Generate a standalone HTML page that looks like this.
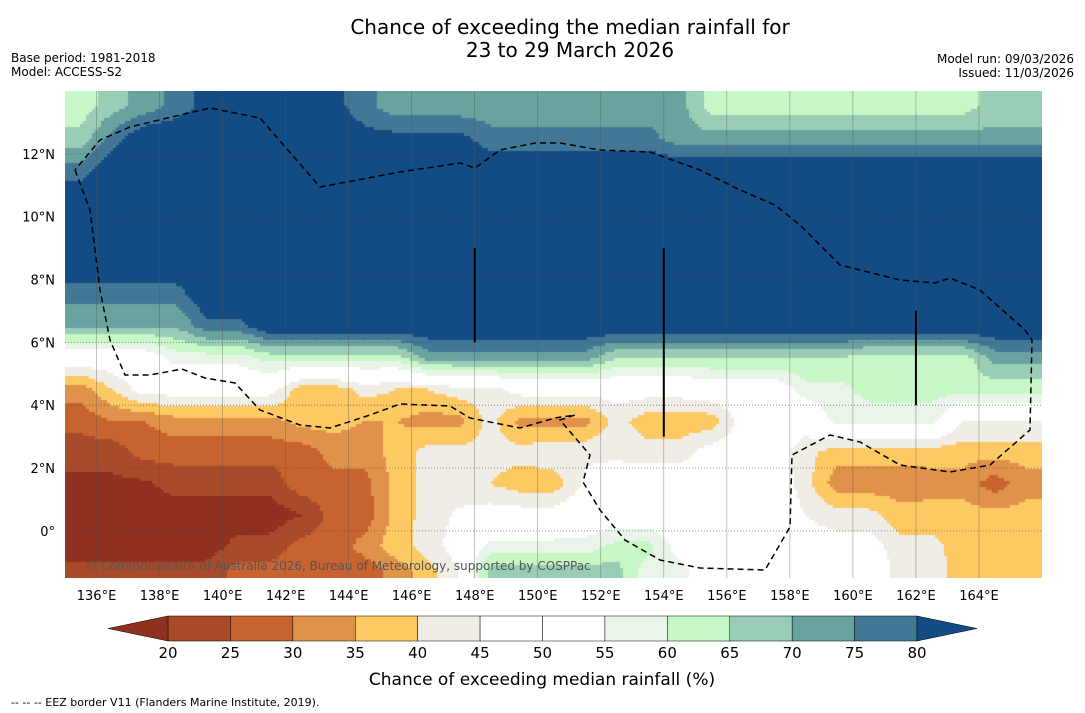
<!DOCTYPE html>
<html><head><meta charset="utf-8"><style>
body{margin:0;background:#fff;width:1085px;height:713px;overflow:hidden;font-family:"Liberation Sans","DejaVu Sans",sans-serif;position:relative}
svg text{font-family:"DejaVu Sans","Liberation Sans",sans-serif}
#field{position:absolute;left:65px;top:91px}
#chart{position:absolute;left:0;top:0}
</style></head><body>
<canvas id="field" width="977" height="487"></canvas>
<svg id="chart" width="1085" height="713">
<text x="570" y="34" font-size="20" text-anchor="middle">Chance of exceeding the median rainfall for</text>
<text x="570" y="57" font-size="20" text-anchor="middle">23 to 29 March 2026</text>
<text x="11" y="62" font-size="12">Base period: 1981-2018</text>
<text x="11" y="76" font-size="12">Model: ACCESS-S2</text>
<text x="1074" y="63" font-size="12" text-anchor="end">Model run: 09/03/2026</text>
<text x="1074" y="77" font-size="12" text-anchor="end">Issued: 11/03/2026</text>
<g id="map"></g>
<g id="cbar"></g>
<text x="542" y="685" font-size="17" text-anchor="middle">Chance of exceeding median rainfall (%)</text>
<text x="11" y="706" font-size="11">--  --  -- EEZ border V11 (Flanders Marine Institute, 2019).</text>
</svg>
<script>
const lons=[];for(let i=0;i<31;i++)lons.push(135+i);
const lats=[14,13,12,11,10,9,8,7,6,5,4,3,2,1,0,-1];
const latBottom=-1.5;
const grid=[
[62,68,72,77,82,82,82,82,82,77,72,72,72,72,72,72,72,72,72,72,63,63,63,63,63,63,63,63,63,67,67],
[67,77,85,85,85,85,85,85,85,82,82,82,82,77,77,77,77,77,77,72,72,72,72,72,72,72,72,72,72,72,72],
[77,85,85,85,85,85,85,85,85,85,85,85,85,85,85,85,85,85,85,85,85,85,85,85,85,85,85,85,85,85,85],
[85,85,85,85,85,85,85,85,85,85,85,85,85,85,85,85,85,85,85,85,85,85,85,85,85,85,85,85,85,85,85],
[85,85,85,85,85,85,85,85,85,85,85,85,85,85,85,85,85,85,85,85,85,85,85,85,85,85,85,85,85,85,85],
[85,85,85,85,85,85,85,85,85,85,85,85,85,85,85,85,85,85,85,85,85,85,85,85,85,85,85,85,85,85,85],
[77,77,77,77,85,85,85,85,85,85,85,85,85,85,85,85,85,85,85,85,85,85,85,85,85,85,85,85,85,85,85],
[70,70,70,70,78,78,85,85,85,85,85,85,85,85,85,85,85,85,85,85,85,85,85,85,85,85,85,85,85,85,85],
[50,50,50,57,57,57,62,62,62,62,62,72,72,72,72,72,72,65,65,65,65,65,65,65,65,62,62,62,62,72,72],
[32,40,48,48,48,48,48,37,37,42,40,40,43,43,48,48,48,48,48,48,50,50,50,58,58,62,62,62,62,62,62],
[27,30,30,33,33,33,33,37,37,35,35,33,33,42,33,33,33,42,37,37,37,48,48,48,57,57,57,57,45,45,45],
[22,22,27,27,27,27,27,27,32,32,37,42,42,42,42,44,44,44,42,42,48,48,48,42,37,37,37,37,37,37,37],
[19,19,19,22,22,22,22,28,28,28,37,42,42,40,37,37,46,48,50,50,50,50,50,42,32,32,32,33,33,27,33],
[17,17,17,17,17,17,17,20,27,27,37,42,46,48,48,48,50,50,50,50,50,50,50,45,42,42,37,37,37,37,37],
[17,17,17,17,17,22,22,27,27,32,38,42,48,57,57,57,57,62,62,52,52,52,48,48,48,48,42,42,37,37,37],
[22,22,22,22,22,27,27,27,27,27,32,38,45,67,67,67,67,67,57,57,50,50,50,50,50,50,43,43,37,37,37]];
const levels=[20,25,30,35,40,45,50,55,60,65,70,75,80];
const colors=["#8f3020","#a94b2a","#c8632f","#e0924a","#fdc963","#f0ece6","#ffffff","#ffffff","#e9f5e8","#c7f7c6","#99cdb5","#6aa2a0","#427896","#134b85"];
const lonTicks=[136,138,140,142,144,146,148,150,152,154,156,158,160,162,164];
const latTicks=[0,2,4,6,8,10,12];
const x0=65,x1=1042,y0=91,y1=578;
const X=lon=>x0+(lon-135)*(x1-x0)/31;
const Y=lat=>y0+(14-lat)*(y1-y0)/15.5;
const NS="http://www.w3.org/2000/svg";
function mk(t,a,p){const e=document.createElementNS(NS,t);for(const k in a)e.setAttribute(k,a[k]);p.appendChild(e);return e;}
function col(v){let b=0;while(b<levels.length&&v>=levels[b])b++;return colors[b];}
const cLon=lons.map(l=>l+0.5);
const cLat=lats.map((l,r)=>{const b=r+1<lats.length?lats[r+1]:latBottom;return (l+b)/2;});
function interp(lon,lat){
  let c=0;while(c<cLon.length-2&&lon>cLon[c+1])c++;
  let tx=(lon-cLon[c])/(cLon[c+1]-cLon[c]);tx=Math.max(0,Math.min(1,tx));
  let r=0;while(r<cLat.length-2&&lat<cLat[r+1])r++;
  let ty=(cLat[r]-lat)/(cLat[r]-cLat[r+1]);ty=Math.max(0,Math.min(1,ty));
  const a=grid[r][c]*(1-tx)+grid[r][c+1]*tx,b=grid[r+1][c]*(1-tx)+grid[r+1][c+1]*tx;
  return a*(1-ty)+b*ty;}
const ctx=document.getElementById('field').getContext('2d');
const S=3;
for(let py=0;py<487;py+=S)for(let px=0;px<977;px+=S){
  const lon=135+(px+S/2)*31/977,lat=14-(py+S/2)*15.5/487;
  ctx.fillStyle=col(interp(lon,lat));ctx.fillRect(px,py,S,S);}
const map=document.getElementById('map');
lonTicks.forEach(l=>{const e=mk('line',{x1:X(l),x2:X(l),y1:y0,y2:y1,stroke:'#555','stroke-width':0.6,'stroke-opacity':0.6},map);


const t=mk('text',{x:X(l),y:600,'font-size':13,'text-anchor':'middle'},map);t.textContent=l+'°E';

});
latTicks.forEach(l=>{const e=mk('line',{x1:x0,x2:x1,y1:Y(l),y2:Y(l),stroke:'#444','stroke-width':0.8,'stroke-dasharray':'1,2','stroke-opacity':0.7},map);


const t=mk('text',{x:55,y:Y(l)+5,'font-size':13,'text-anchor':'end'},map);t.textContent=(l===0?'0°':l+'°N');

});
const eez=mk('polyline',{points:"75,170 90,210 100,290 110,340 125,375 150,375 182,369 205,378 235,383 260,410 300,425 330,428 370,415 400,404 450,406 470,418 520,428 555,418 575,415 560,420 590,455 583,482 600,510 625,540 660,560 700,568 765,570 790,527 792,455 830,435 860,442 900,465 950,472 990,465 1030,430 1032,340 1025,330 980,290 950,278 935,283 900,280 840,265 800,225 775,205 740,190 700,170 650,152 600,150 560,143 535,143 500,150 475,168 460,163 400,172 320,187 260,118 210,108 180,115 130,127 100,140 75,170",fill:'none',stroke:'#000','stroke-width':1.5,'stroke-dasharray':'6,4'},map);


[[148,9,6],[154,9,3],[162,7,4]].forEach(s=>{const e=mk('line',{x1:X(s[0]),x2:X(s[0]),y1:Y(s[1]),y2:Y(s[2]),stroke:'#000','stroke-width':2},map);

});
const cr=mk('text',{x:338,y:570,'font-size':12,'text-anchor':'middle',fill:'#555'},map);cr.textContent='© Commonwealth of Australia 2026, Bureau of Meteorology, supported by COSPPac';


const cb=document.getElementById('cbar');const cx0=168,cx1=917,cy0=616,cy1=641,w=(cx1-cx0)/12;
for(let i=0;i<12;i++){const e=mk('rect',{x:cx0+i*w,y:cy0,width:w,height:cy1-cy0,fill:colors[i+1],stroke:'#000','stroke-width':0.5},cb);

}
const lt=mk('polygon',{points:`${cx0},${cy0} 108,${(cy0+cy1)/2} ${cx0},${cy1}`,fill:colors[0],stroke:'#000','stroke-width':0.5},cb);


const rt=mk('polygon',{points:`${cx1},${cy0} 977,${(cy0+cy1)/2} ${cx1},${cy1}`,fill:colors[13],stroke:'#000','stroke-width':0.5},cb);


levels.forEach((l,i)=>{const t=mk('text',{x:cx0+i*w,y:658,'font-size':15,'text-anchor':'middle'},cb);t.textContent=l;

});
</script>
</body></html>
